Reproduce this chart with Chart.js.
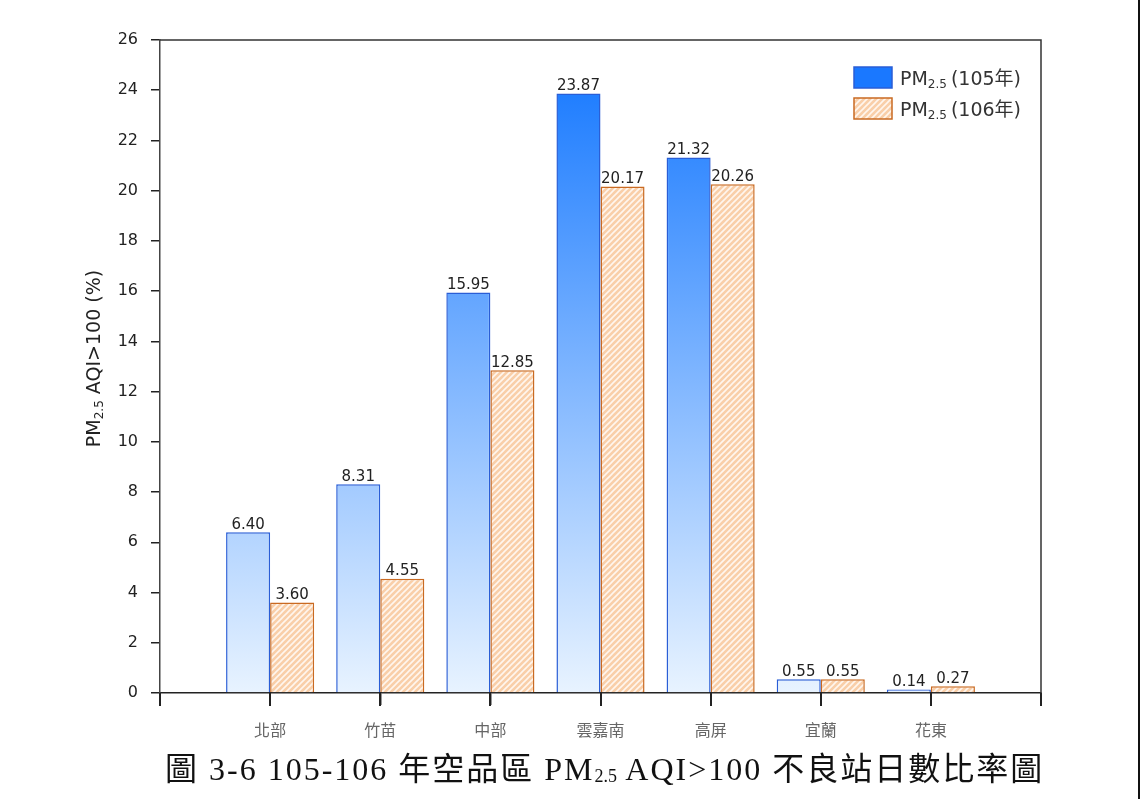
<!DOCTYPE html>
<html>
<head>
<meta charset="utf-8">
<script src="https://cdn.jsdelivr.net/npm/chart.js@4"></script>
<style>
  body { margin: 0; background: #fff; }
  #wrap { position: relative; width: 1140px; height: 799px; overflow: hidden; }
  #edge { position: absolute; right: 0; top: 0; width: 2px; height: 799px; background: #111; }
  #caption {
    position: absolute; left: 165px; top: 743px; white-space: nowrap;
    font-family: "Liberation Serif", "Noto Sans CJK TC", serif;
    font-size: 32px; color: #111; letter-spacing: 2px;
  }
  #caption sub { font-size: 18px; vertical-align: -2px; letter-spacing: 0; }
</style>
</head>
<body>
<div id="wrap">
  <canvas id="myChart" width="1140" height="799"></canvas>
  <div id="edge"></div>
  <div id="caption">圖 3-6 105-106 年空品區 PM<sub>2.5</sub> AQI&gt;100 不良站日數比率圖</div>
</div>
<script>
// 空品區
const categories = ['北部', '竹苗', '中部', '雲嘉南', '高屏', '宜蘭', '花東'];
// PM2.5 AQI>100 ratio (%)
const pm105 = [6.40, 8.31, 15.95, 23.87, 21.32, 0.55, 0.14];
const pm106 = [3.60, 4.55, 12.85, 20.17, 20.26, 0.55, 0.27];
const seriesNames = ['(105年)', '(106年)'];
const yMax = 26;
const yStep = 2;

// empty slot on each side of the groups
const labels = [''].concat(categories, ['']);
const pad = arr => [null].concat(arr, [null]);

const blueBorder = '#2a5ed6';
const orangeBorder = '#c96a22';

// hatched fill for the 106 series
function makeHatch() {
  const c = document.createElement('canvas');
  c.width = 6; c.height = 6;
  const g = c.getContext('2d');
  g.fillStyle = '#f9cfa9';
  g.fillRect(0, 0, 6, 6);
  g.strokeStyle = '#fff6ee';
  g.lineWidth = 1.6;
  g.beginPath();
  g.moveTo(-1, 7); g.lineTo(7, -1);
  g.moveTo(-4, 4); g.lineTo(4, -4);
  g.moveTo(2, 10); g.lineTo(10, 2);
  g.stroke();
  return g.createPattern(c, 'repeat');
}
const hatch = makeHatch();

function blueFill(context) {
  const area = context.chart.chartArea;
  if (!area) return '#4a9af5';
  const grad = context.chart.ctx.createLinearGradient(0, area.top, 0, area.bottom);
  grad.addColorStop(0, '#0f74ff');
  grad.addColorStop(1, '#e8f3ff');
  return grad;
}

// value labels, legend, frame and y title
const extras = {
  id: 'extras',
  afterDraw(chart) {
    const ctx = chart.ctx;
    const area = chart.chartArea;
    const xs = chart.scales.x;
    ctx.save();
    // value labels
    ctx.font = '15px "DejaVu Sans", sans-serif';
    ctx.fillStyle = '#222';
    ctx.textAlign = 'center';
    ctx.textBaseline = 'bottom';
    chart.data.datasets.forEach((ds, i) => {
      chart.getDatasetMeta(i).data.forEach((bar, j) => {
        const v = ds.data[j];
        if (v === null) return;
        ctx.fillText(v.toFixed(2), bar.x, bar.y);
      });
    });

    // frame top and right
    ctx.strokeStyle = '#333';
    ctx.lineWidth = 1.5;
    ctx.beginPath();
    ctx.moveTo(area.left, area.top);
    ctx.lineTo(area.right, area.top);
    ctx.lineTo(area.right, area.bottom);
    ctx.stroke();

    // tick marks below the x axis at every category
    ctx.strokeStyle = '#222';
    ctx.lineWidth = 2;
    for (let i = 0; i < labels.length; i++) {
      const px = Math.round(xs.getPixelForTick(i));
      ctx.beginPath();
      ctx.moveTo(px, area.bottom);
      ctx.lineTo(px, area.bottom + 13);
      ctx.stroke();
    }

    // legend
    const lx = 854, ly = [67, 98];
    const fills = ['#1a78ff', hatch];
    const strokes = [blueBorder, orangeBorder];
    seriesNames.forEach((name, i) => {
      ctx.fillStyle = fills[i];
      ctx.fillRect(lx, ly[i], 38, 21);
      ctx.strokeStyle = strokes[i];
      ctx.lineWidth = 1.5;
      ctx.strokeRect(lx, ly[i], 38, 21);
      ctx.fillStyle = '#333';
      ctx.textAlign = 'left';
      ctx.textBaseline = 'alphabetic';
      const base = ly[i] + 18;
      let x = lx + 46;
      ctx.font = '19px "DejaVu Sans", "Noto Sans CJK TC", sans-serif';
      ctx.fillText('PM', x, base);
      x += ctx.measureText('PM').width;
      ctx.font = '12px "DejaVu Sans", sans-serif';
      ctx.fillText('2.5', x, base + 3);
      x += ctx.measureText('2.5').width + 4;
      ctx.font = '19px "DejaVu Sans", "Noto Sans CJK TC", sans-serif';
      ctx.fillText(name, x, base);
    });

    // y axis title
    ctx.translate(100, (area.top + area.bottom) / 2 - 8);
    ctx.rotate(-Math.PI / 2);
    ctx.fillStyle = '#222';
    ctx.textBaseline = 'alphabetic';
    const parts = [['PM', '19px'], ['2.5', '12px'], [' AQI>100 (%)', '19px']];
    let w = 0;
    parts.forEach(p => { ctx.font = p[1] + ' "DejaVu Sans", sans-serif'; w += ctx.measureText(p[0]).width; });
    let x = -w / 2;
    parts.forEach(p => {
      ctx.font = p[1] + ' "DejaVu Sans", sans-serif';
      ctx.fillText(p[0], x, p[1] === '12px' ? 3 : 0);
      x += ctx.measureText(p[0]).width;
    });
    ctx.restore();
  }
};

new Chart(document.getElementById('myChart'), {
  type: 'bar',
  data: {
    labels: labels,
    datasets: [{
      data: pad(pm105),
      backgroundColor: blueFill,
      borderColor: blueBorder,
      borderWidth: 1.5,
      borderSkipped: 'bottom',
      categoryPercentage: 0.8,
      barPercentage: 1.0
    }, {
      data: pad(pm106),
      backgroundColor: hatch,
      borderColor: orangeBorder,
      borderWidth: 1.5,
      borderSkipped: 'bottom',
      categoryPercentage: 0.8,
      barPercentage: 1.0
    }]
  },
  options: {
    responsive: false,
    animation: false,
    layout: { padding: { left: 0, right: 99, top: 40, bottom: 46 } },
    plugins: {
      legend: { display: false },
      tooltip: { enabled: false }
    },
    scales: {
      x: {
        offset: false,
        afterFit: s => { s.height = 60; },
        grid: { offset: false, drawOnChartArea: false, drawTicks: true, tickLength: 12, color: '#333', lineWidth: 1.5 },
        border: { color: '#222', width: 1.5 },
        ticks: { autoSkip: false, maxRotation: 0, padding: 15, color: '#666', font: { size: 16, family: '"Noto Sans CJK TC", sans-serif' } }
      },
      y: {
        min: 0,
        max: yMax,
        afterFit: s => { s.width = 160; },
        grid: { drawOnChartArea: false, drawTicks: true, tickLength: 9, color: '#222', lineWidth: 1.5 },
        border: { color: '#444', width: 1.5 },
        ticks: { stepSize: yStep, padding: 13, color: '#222', font: { size: 16, family: '"DejaVu Sans", sans-serif' } }
      }
    }
  },
  plugins: [extras]
});
</script>
</body>
</html>
